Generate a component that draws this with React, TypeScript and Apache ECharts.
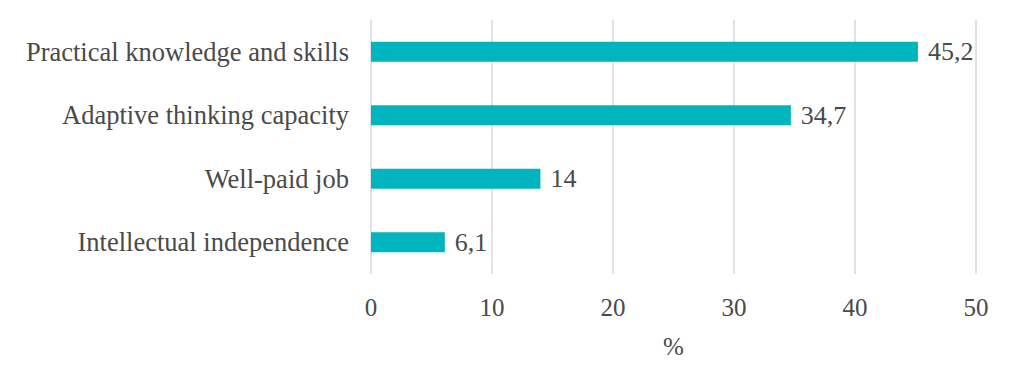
import React, { useEffect, useRef } from "react";
import * as echarts from "echarts";

const categories = [
  "Practical knowledge and skills",
  "Adaptive thinking capacity",
  "Well-paid job",
  "Intellectual independence",
];
const values = [45.2, 34.7, 14, 6.1];
const xTicks = { min: 0, max: 50, interval: 10 };
const axisName = "%";

const FONT = "'Liberation Serif', 'Times New Roman', serif";
const TEXT = "#4a4a4a";

export default function App() {
  const ref = useRef<HTMLDivElement>(null);
  useEffect(() => {
    if (!ref.current) return;
    const chart = echarts.init(ref.current, null, { renderer: "svg" });
    chart.setOption({
      animation: false,
      backgroundColor: "#ffffff",
      textStyle: { fontFamily: FONT },
      grid: { left: 371, right: 54, top: 20, bottom: 101, containLabel: false },
      xAxis: {
        type: "value",
        min: xTicks.min,
        max: xTicks.max,
        interval: xTicks.interval,
        name: axisName,
        nameLocation: "middle",
        nameGap: 60,
        nameTextStyle: { fontFamily: FONT, fontSize: 25, color: TEXT },
        axisLine: { show: false },
        axisTick: { show: false },
        axisLabel: { fontFamily: FONT, fontSize: 25, color: TEXT, margin: 21 },
        splitLine: { show: true, lineStyle: { color: "#D9D9D9", width: 1.5 } },
      },
      yAxis: {
        type: "category",
        data: categories,
        inverse: true,
        axisLine: { show: false },
        axisTick: { show: false },
        axisLabel: { fontFamily: FONT, fontSize: 26.5, color: TEXT, margin: 22 },
      },
      series: [
        {
          type: "bar",
          data: values,
          barWidth: 20,
          itemStyle: { color: "#00B5BD" },
          label: {
            show: true,
            position: "right",
            distance: 10,
            fontFamily: FONT,
            fontSize: 26,
            color: TEXT,
            formatter: (p: any) => String(p.value).replace(".", ","),
          },
        },
      ],
    });
    return () => chart.dispose();
  }, []);
  return (
    <div
      ref={ref}
      style={{ position: "fixed", left: 0, top: 0, width: 1030, height: 375 }}
    />
  );
}
